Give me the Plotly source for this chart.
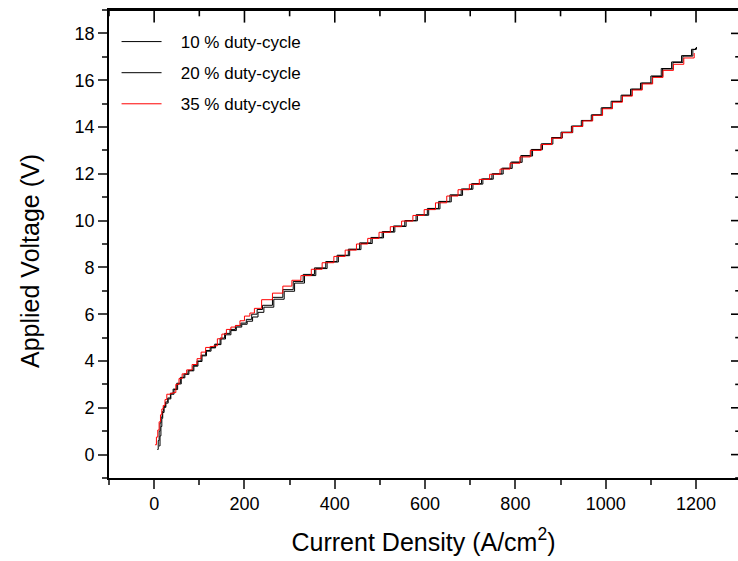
import plotly.graph_objects as go

# ---- data ----
x_10 = [7, 9, 11, 13, 15, 18, 21, 25, 30, 36, 42, 50, 58, 66, 75, 86, 95, 104, 114, 124, 134, 146, 156, 168, 180, 192, 204, 216, 228,
        240, 262, 285, 308, 330, 355, 380, 405, 430, 455, 480, 505, 530, 555, 580, 605, 630, 655, 680, 703, 725, 748, 770, 790,
        812, 835, 857, 880, 901, 924, 946, 968, 990, 1012, 1034, 1055, 1077, 1100, 1123, 1146, 1168, 1190, 1201]
y_10 = [0.22, 0.6, 1.0, 1.35, 1.6, 1.85, 2.05, 2.25, 2.42, 2.62, 2.8, 3.05, 3.3, 3.45, 3.6, 3.8, 4.0, 4.25, 4.45, 4.58, 4.72, 4.98, 5.18, 5.35, 5.5, 5.62, 5.78, 6.0, 6.2,
        6.38, 6.72, 7.05, 7.40, 7.70, 7.98, 8.25, 8.52, 8.78, 9.05, 9.28, 9.53, 9.77, 10.00, 10.25, 10.52, 10.82, 11.10, 11.35, 11.58, 11.78, 12.00, 12.24, 12.50,
        12.78, 13.04, 13.28, 13.55, 13.78, 14.04, 14.28, 14.52, 14.82, 15.10, 15.36, 15.62, 15.88, 16.18, 16.50, 16.78, 17.05, 17.32, 17.42]

x_20 = [11, 13, 15, 17, 19, 22, 26, 31, 37, 44, 52, 60, 68, 77, 88, 97, 106, 116, 126, 136, 148, 158, 170, 182, 194, 206, 218, 230,
        243, 265, 288, 311, 333, 358, 383, 408, 433, 458, 483, 508, 533, 558, 583, 608, 633, 658, 683, 706, 728, 751, 773, 793,
        815, 838, 860, 883, 904, 927, 949, 971, 993, 1015, 1037, 1058, 1080, 1103, 1126, 1149, 1171, 1193, 1199]
y_20 = [0.37, 0.8, 1.2, 1.55, 1.8, 2.02, 2.2, 2.38, 2.58, 2.78, 3.02, 3.28, 3.43, 3.58, 3.78, 3.98, 4.22, 4.42, 4.56, 4.7, 4.94, 5.12, 5.3, 5.45, 5.57, 5.7, 5.88, 6.08,
        6.30, 6.64, 6.98, 7.33, 7.65, 7.95, 8.23, 8.50, 8.76, 9.02, 9.26, 9.51, 9.75, 9.99, 10.23, 10.50, 10.80, 11.08, 11.34, 11.56, 11.77, 11.99, 12.23, 12.49,
        12.76, 13.03, 13.27, 13.53, 13.76, 14.03, 14.27, 14.51, 14.81, 15.09, 15.35, 15.61, 15.87, 16.16, 16.48, 16.76, 17.03, 17.31, 17.38]

x_35 = [2, 5, 8, 11, 14, 17, 20, 24, 28, 36, 42, 48, 55, 62, 72, 84, 95, 104, 114, 124, 132, 140, 150, 160, 170, 180, 190, 200, 212, 222,
        238, 262, 285, 305, 325, 348, 372, 398, 423, 448, 473, 498, 523, 548, 573, 598, 623, 648, 673, 698, 720, 743, 766, 788,
        810, 833, 857, 880, 903, 926, 949, 971, 993, 1015, 1037, 1059, 1081, 1104, 1127, 1150, 1173, 1196]
y_35 = [0.42, 0.75, 1.05, 1.4, 1.7, 1.95, 2.1, 2.35, 2.58, 2.62, 2.65, 3.0, 3.25, 3.45, 3.62, 3.85, 4.1, 4.38, 4.58, 4.62, 4.65, 4.95, 5.15, 5.35, 5.45, 5.52, 5.72, 5.92, 6.05, 6.25,
        6.62, 6.9, 7.2, 7.45, 7.65, 7.92, 8.2, 8.47, 8.74, 9.0, 9.24, 9.5, 9.74, 9.98, 10.22, 10.47, 10.76, 11.05, 11.32, 11.55, 11.76, 11.98, 12.2, 12.45,
        12.72, 13.0, 13.25, 13.52, 13.76, 14.02, 14.26, 14.5, 14.78, 15.06, 15.32, 15.58, 15.84, 16.12, 16.42, 16.68, 16.95, 17.16]

series_names = ["10 % duty-cycle", "20 % duty-cycle", "35 % duty-cycle"]
series_colors = ["#000000", "#000000", "#FF0000"]

x_tickvals = [0, 200, 400, 600, 800, 1000, 1200]
x_minor_ticks = [-100, 100, 300, 500, 700, 900, 1100]
y_tickvals = [0, 2, 4, 6, 8, 10, 12, 14, 16, 18]
y_minor_ticks = [-1, 1, 3, 5, 7, 9, 11, 13, 15, 17]

FONT = "Liberation Sans, Arial, sans-serif"
PAD = "\u00a0\u00a0\u00a0"
xr = [-100, 1293]
yr = [-1, 19]

fig = go.Figure()
for name, xs, ys, col in zip(series_names, [x_10, x_20, x_35], [y_10, y_20, y_35], series_colors):
    fig.add_trace(go.Scatter(x=xs, y=ys, mode="lines", name=PAD + name, legendgroup=name,
                             line=dict(color=col, width=1, shape="hv")))

# inward-pointing ticks on the top and right frame edges (the outer half of each marker is clipped)
def tick_marks(xs, ys, symbol, size):
    return go.Scatter(x=xs, y=ys, mode="markers", showlegend=False, hoverinfo="skip", cliponaxis=True,
                      marker=dict(symbol=symbol, size=size, color="black", line=dict(width=1.6, color="black")))

fig.add_trace(tick_marks(x_tickvals, [yr[1]] * len(x_tickvals), "line-ns", 18))
fig.add_trace(tick_marks(x_minor_ticks, [yr[1]] * len(x_minor_ticks), "line-ns", 9))
fig.add_trace(tick_marks([xr[1]] * len(y_tickvals), y_tickvals, "line-ew", 10))
fig.add_trace(tick_marks([xr[1]] * len(y_minor_ticks), y_minor_ticks, "line-ew", 4))

fig.update_layout(
    width=738, height=561,
    margin=dict(l=109, r=0, t=10, b=83),
    paper_bgcolor="white", plot_bgcolor="white",
    font=dict(family=FONT, color="black", size=18),
    showlegend=True,
    legend=dict(x=0.012, y=0.97, xanchor="left", yanchor="top", bgcolor="rgba(0,0,0,0)",
                font=dict(size=17, family=FONT), tracegroupgap=6, itemwidth=40),
    xaxis=dict(range=xr, tickvals=x_tickvals, ticks="outside", ticklen=9, tickwidth=1.5,
               showline=True, linewidth=1.6, linecolor="black", mirror=True, showgrid=False, zeroline=False,
               minor=dict(dtick=100, tick0=0, ticks="outside", ticklen=5, tickwidth=1.5, showgrid=False),
               tickfont=dict(size=18),
               title=dict(text="Current Density (A/cm<sup>2</sup>)", font=dict(size=25), standoff=20),
               automargin=False),
    yaxis=dict(range=yr, tickvals=y_tickvals, ticks="outside", ticklen=9, tickwidth=1.5,
               showline=True, linewidth=1.6, linecolor="black", showgrid=False, zeroline=False,
               minor=dict(dtick=1, tick0=0, ticks="outside", ticklen=5, tickwidth=1.5, showgrid=False),
               tickfont=dict(size=18), automargin=False),
    shapes=[dict(type="line", xref="paper", yref="paper", x0=0, x1=1, y0=1, y1=1,
                 line=dict(color="black", width=2))],
    annotations=[dict(text="Applied Voltage (V)", textangle=-90, xref="paper", yref="paper",
                      x=(30 - 109) / 629, y=(478 - 261) / 468, xanchor="center", yanchor="middle",
                      showarrow=False, font=dict(size=25, family=FONT))],
)

fig.write_html("out.html")
